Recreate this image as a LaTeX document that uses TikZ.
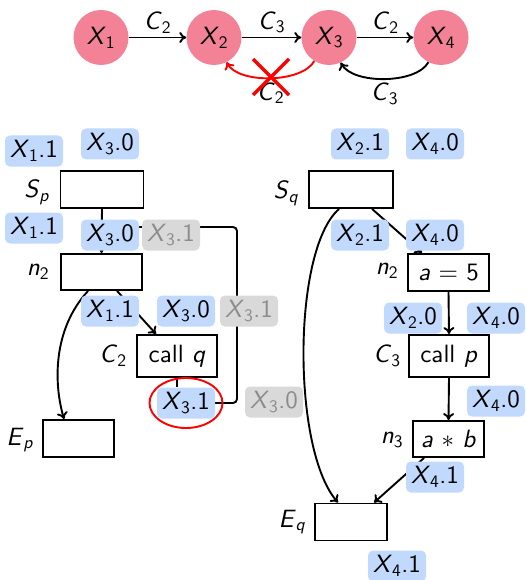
\documentclass[tikz,border=0pt]{standalone}
\usepackage{fontspec}
\setsansfont{lmsans10-regular.otf}[ItalicFont=lmsans10-oblique.otf]
\usetikzlibrary{arrows.meta,calc}
\definecolor{pinkc}{RGB}{244,130,150}
\definecolor{lblue}{RGB}{193,217,253}
\definecolor{lgray}{RGB}{217,217,217}
\definecolor{tgray}{RGB}{140,140,140}
\newcommand\vv[2]{\textit{#1}\textsubscript{#2}}
\pgfdeclarelayer{bg}\pgfsetlayers{bg,main}
\begin{document}
\begin{tikzpicture}[x=1pt,y=-1pt,
  font=\sffamily\fontsize{25}{30}\selectfont,
  st/.style={circle, fill=pinkc, minimum size=55pt, inner sep=0pt},
  blab/.style={fill=lblue, rounded corners=5pt, minimum width=58pt, minimum height=31pt, inner sep=0pt},
  glab/.style={blab, fill=lgray, text=tgray},
  bx/.style={draw, line width=1.9pt, minimum height=37pt, inner sep=2pt},
  arr/.style={-{To[length=7pt,width=11pt]}, line width=1.9pt},
  ln/.style={line width=1.9pt},
  nm/.style={inner sep=0pt}]
\useasboundingbox (0,0) rectangle (526,580);
% top graph
\node[st] (x1) at (101,37.5) {\vv X1};
\node[st] (x2) at (214,37.5) {\vv X2};
\node[st] (x3) at (329,37.5) {\vv X3};
\node[st] (x4) at (441,37.5) {\vv X4};
\draw[arr] (x1) -- node[above=0pt] (e1) {\vv C2} (x2);
\draw[arr] (x2) -- node[above=0pt] (e2) {\vv C3} (x3);
\draw[arr] (x3) -- node[above=0pt] (e3) {\vv C2} (x4);
\draw[arr, red] (x3.-122) .. controls +(-12,22) and +(12,22) .. node[below=0pt, text=black] (e4) {\vv C2} (x2.-63);
\draw[arr] (x4.-117) .. controls +(-12,22) and +(12,22) .. node[below=0pt] (e5) {\vv C3} (x3.-65);
\draw[red, line width=3.5pt] (253,59) -- (289,95) (289,59) -- (253,95);
% left procedure
\node[blab] (a1) at (34,151) {\vv X1.1};
\node[blab] (a2) at (110,144) {\vv X3.0};
\node[bx, minimum width=83pt] (sp) at (102,189.5) {};
\node[nm] (spl) at (37,192) {\vv S{\textit p}};
\node[blab] (a3) at (34,228) {\vv X1.1};
\node[blab] (a4) at (110,235) {\vv X3.0};
\node[glab] (a5) at (171,235) {\vv X3.1};
\node[bx, minimum width=81pt, minimum height=36pt] (n2) at (101.5,272) {};
\node[nm] (n2l) at (38,272) {\vv n2};
\node[blab] (a6) at (110,311) {\vv X1.1};
\node[blab] (a7) at (186,311) {\vv X3.0};
\node[glab] (a8) at (249,311) {\vv X3.1};
\node[bx, minimum width=80pt, minimum height=42pt] (cq) at (177,356) {call \textit{q}};
\node[nm] (cql) at (113,356) {\vv C2};
\node[blab] (a9) at (186,403) {\vv X3.1};
\node[glab] (a10) at (274,402) {\vv X3.0};
\node[bx, minimum width=71pt] (ep) at (78.5,438.5) {};
\node[nm] (epl) at (20,440) {\vv E{\textit p}};
\draw[red, line width=1.9pt] (a9) ellipse [x radius=36.5, y radius=25];
% right procedure
\node[blab] (b1) at (360,144) {\vv X2.1};
\node[blab] (b2) at (435,144) {\vv X4.0};
\node[bx, minimum width=84pt] (sq) at (351,189.5) {};
\node[nm] (sql) at (286,193) {\vv S{\textit q}};
\node[blab] (b3) at (360,235) {\vv X2.1};
\node[blab] (b4) at (435,235) {\vv X4.0};
\node[bx, minimum width=81pt] (m2) at (448.5,272.5) {\textit{a} = 5};
\node[nm] (m2l) at (387,271) {\vv n2};
\node[blab] (b5) at (413,318) {\vv X2.0};
\node[blab] (b6) at (496,318) {\vv X4.0};
\node[bx, minimum width=80pt, minimum height=42pt] (cp) at (449,356) {call \textit{p}};
\node[nm] (cpl) at (387,356) {\vv C3};
\node[blab] (b7) at (496,401) {\vv X4.0};
\node[bx, minimum width=71pt, minimum height=36pt] (m3) at (448.5,439) {\textit{a} $\ast$ \textit{b}};
\node[nm] (m3l) at (392,440) {\vv n3};
\node[blab] (b8) at (435,477) {\vv X4.1};
\node[bx, minimum width=72pt] (eq) at (351,522) {};
\node[nm] (eql) at (292,522) {\vv E{\textit q}};
\node[blab] (b9) at (397,566) {\vv X4.1};
\begin{pgfonlayer}{bg}
\draw[arr] (sp.south) -- (n2.north);
\draw[arr] ($(n2.south west)+(28,0)$) .. controls (52,330) and (54,385) .. ($(ep.north west)+(22,0)$);
\draw[arr] ($(n2.south west)+(57,0)$) -- ($(cq.north west)+(20,0)$);
\draw[ln] (cq.south) -- (cq.south |- a9.north);
\coordinate (k1) at (237,227);
\draw[ln, rounded corners=4pt] (a4.east |- k1) -- (k1) -- (k1 |- a9.east) -- (a9.east);
\draw[arr] ($(sq.south west)+(64,0)$) -- ($(m2.north west)+(15,0)$);
\draw[arr] ($(sq.south west)+(31,0)$) .. controls (292,250) and (292,450) .. ($(eq.north west)+(24,0)$);
\draw[arr] (m2.south) -- (cp.north);
\draw[arr] (cp.south) -- (m3.north);
\draw[arr] ($(m3.south west)+(12,0)$) -- ($(eq.north west)+(60,0)$);
\end{pgfonlayer}
\end{tikzpicture}
\end{document}
